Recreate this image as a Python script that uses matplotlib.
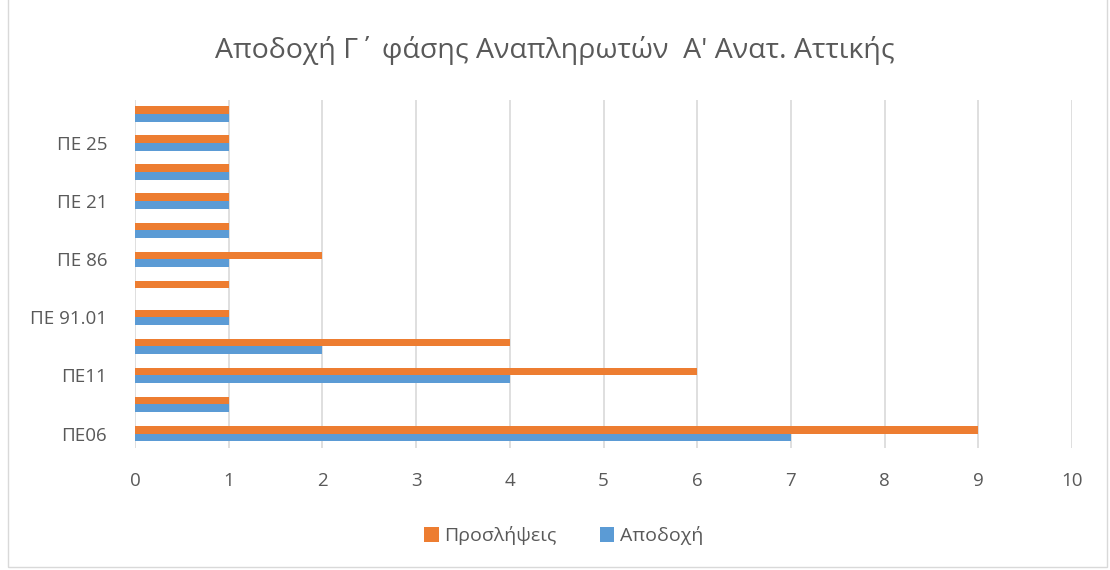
import numpy as np
import matplotlib.pyplot as plt
from matplotlib.patches import Rectangle

plt.rcParams['font.family'] = ['Open Sans', 'DejaVu Sans']

# Categories from bottom to top (Excel shows only every other label)
categories = ["ΠΕ06", "", "ΠΕ11", "", "ΠΕ 91.01", "", "ΠΕ 86", "", "ΠΕ 21", "", "ΠΕ 25", ""]
apodoxi = [7, 1, 4, 2, 1, 0, 1, 1, 1, 1, 1, 1]
proslipseis = [9, 1, 6, 4, 1, 1, 2, 1, 1, 1, 1, 1]
x_ticks = list(range(0, 11))

title = "Αποδοχή Γ΄ φάσης Αναπληρωτών  Α' Ανατ. Αττικής"
text_col = "#595959"
blue = "#5B9BD5"
orange = "#ED7D31"


def main():
    fig = plt.figure(figsize=(11.1, 5.7), dpi=100)
    ax = fig.add_axes([0.1216, 0.214, 0.8442, 0.611])

    y = np.arange(len(categories))
    h = 0.27
    ax.barh(y - h / 2, apodoxi, height=h, color=blue, label="Αποδοχή", zorder=3)
    ax.barh(y + h / 2, proslipseis, height=h, color=orange, label="Προσλήψεις", zorder=3)

    ax.set_xlim(0, 10)
    ax.set_ylim(-0.5, len(categories) - 0.5)
    ax.set_xticks(x_ticks)
    ax.set_yticks(y)
    ax.set_yticklabels(categories)
    ax.tick_params(axis='both', length=0, labelsize=13.5, colors=text_col)
    ax.tick_params(axis='x', pad=17)
    ax.tick_params(axis='y', pad=20)
    ax.grid(axis='x', color="#d9d9d9", linewidth=1.2, zorder=0)
    for s in ax.spines.values():
        s.set_visible(False)

    fig.text(0.5, 0.912, title, ha='center', va='center', fontsize=20.5,
             color=text_col)

    handles, labels = ax.get_legend_handles_labels()
    leg = fig.legend(handles[::-1], labels[::-1], loc='center', bbox_to_anchor=(0.508, 0.06),
                     ncol=2, frameon=False, fontsize=14, handlelength=0.75, handleheight=0.75,
                     columnspacing=2.2, handletextpad=0.3)
    for t in leg.get_texts():
        t.set_color(text_col)

    fig.patches.append(Rectangle((0.007, 0.005), 0.99, 1.2, transform=fig.transFigure,
                                 fill=False, edgecolor="#d9d9d9", linewidth=1))

    fig.savefig("out.png", dpi=100)
    plt.close(fig)


if __name__ == "__main__":
    main()
